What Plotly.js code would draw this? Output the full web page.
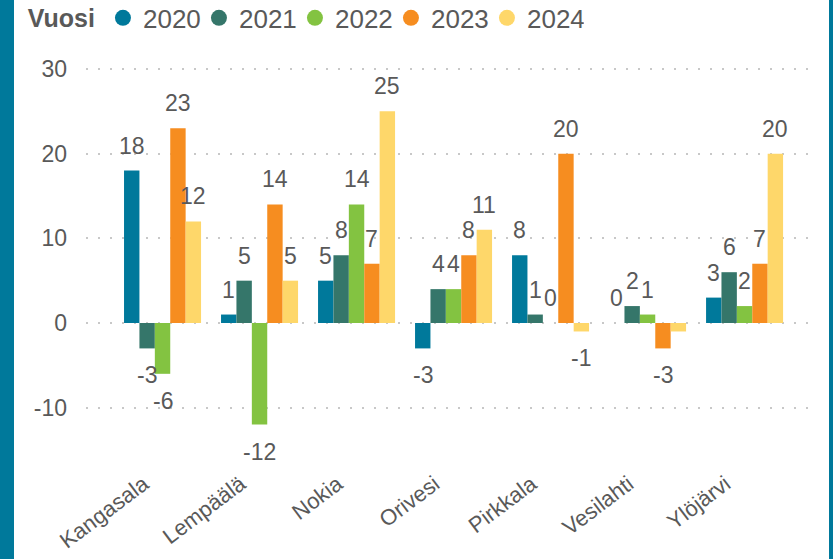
<!DOCTYPE html>
<html>
<head>
<meta charset="utf-8">
<script src="https://cdn.plot.ly/plotly-3.0.1.min.js"></script>
<style>
  html, body { margin: 0; padding: 0; background: #fff; }
  #wrap { position: relative; width: 833px; height: 559px; overflow: hidden; }
  #chart { position: absolute; left: 0; top: 0; width: 833px; height: 559px; }
  .bar-l { position: absolute; left: 0; top: 0; width: 14px; height: 559px; background: #00799B; }
  .bar-r { position: absolute; left: 829px; top: 0; width: 4px; height: 559px; background: #00799B; }
</style>
</head>
<body>
<div id="wrap">
  <div id="chart"></div>
  <div class="bar-l"></div>
  <div class="bar-r"></div>
</div>
<script>
const categories = ["Kangasala", "Lempäälä", "Nokia", "Orivesi", "Pirkkala", "Vesilahti", "Ylöjärvi"];
const years = ["2020", "2021", "2022", "2023", "2024"];
const v2020 = [18, 1, 5, -3, 8, 0, 3];
const v2021 = [-3, 5, 8, 4, 1, 2, 6];
const v2022 = [-6, -12, 14, 4, 0, 1, 2];
const v2023 = [23, 14, 7, 8, 20, -3, 7];
const v2024 = [12, 5, 25, 11, -1, -1, 20];
const colors = ["#00799B", "#35766A", "#83C341", "#F68D20", "#FED76A"];
const hiddenLabels = [["Vesilahti", "2024"]];
const yTicks = [-10, 0, 10, 20, 30];

const series = [v2020, v2021, v2022, v2023, v2024];
const textColor = "#595959";
const fontFam = "Liberation Sans, Arial, sans-serif";

const traces = [];
series.forEach((vals, i) => {
  traces.push({
    type: "bar", x: categories, y: vals, name: years[i],
    marker: { color: colors[i] }, showlegend: false, hoverinfo: "skip"
  });
});
series.forEach((vals, i) => {
  traces.push({
    type: "scatter", mode: "markers", x: [null], y: [null], name: years[i],
    marker: { color: colors[i], size: 18, symbol: "circle" }, showlegend: true
  });
});

const barPx = 15.4;
const annotations = [];
series.forEach((vals, i) => {
  vals.forEach((v, j) => {
    if (hiddenLabels.some(h => h[0] === categories[j] && h[1] === years[i])) return;
    annotations.push({
      x: categories[j], y: v, xref: "x", yref: "y",
      text: String(v), showarrow: false,
      xshift: (i - 2) * barPx,
      yanchor: v < 0 ? "top" : "bottom",
      yshift: v < 0 ? -12 : 10,
      font: { family: fontFam, size: 23, color: textColor }
    });
  });
});

const layout = {
  width: 833, height: 559,
  margin: { l: 86, r: 15, t: 60, b: 89 },
  paper_bgcolor: "#fff", plot_bgcolor: "#fff",
  barmode: "group", bargap: 0.206, bargroupgap: 0,
  font: { family: fontFam, color: textColor },
  showlegend: true,
  legend: {
    orientation: "h", x: 0.031, xref: "container", y: 0.968, yref: "container",
    xanchor: "left", yanchor: "middle",
    font: { family: fontFam, size: 26, color: textColor },
    title: { text: "<b>Vuosi</b>", side: "left", font: { family: fontFam, size: 25, color: textColor } },
    itemwidth: 30, tracegroupgap: 0, traceorder: "normal",
    entrywidth: 51, entrywidthmode: "pixels",
    bgcolor: "rgba(0,0,0,0)"
  },
  xaxis: {
    type: "category", range: [-0.789, 6.757],
    showgrid: false, zeroline: false, showline: false, ticks: "",
    tickangle: -37, ticklabelshift: -19, ticklabelstandoff: -4,
    tickfont: { family: fontFam, size: 22, color: textColor },
    fixedrange: true
  },
  yaxis: {
    range: [-17.36, 31.06], tickvals: yTicks, ticktext: yTicks.map(String),
    showgrid: true, gridcolor: "#C8C8C8", gridwidth: 2, griddash: "2px,10px",
    zeroline: false, showline: false, ticks: "",
    ticklabelstandoff: 18,
    tickfont: { family: fontFam, size: 23, color: textColor },
    fixedrange: true
  },
  annotations: annotations
};

Plotly.newPlot("chart", traces, layout, { displayModeBar: false, staticPlot: true });
</script>
</body>
</html>
